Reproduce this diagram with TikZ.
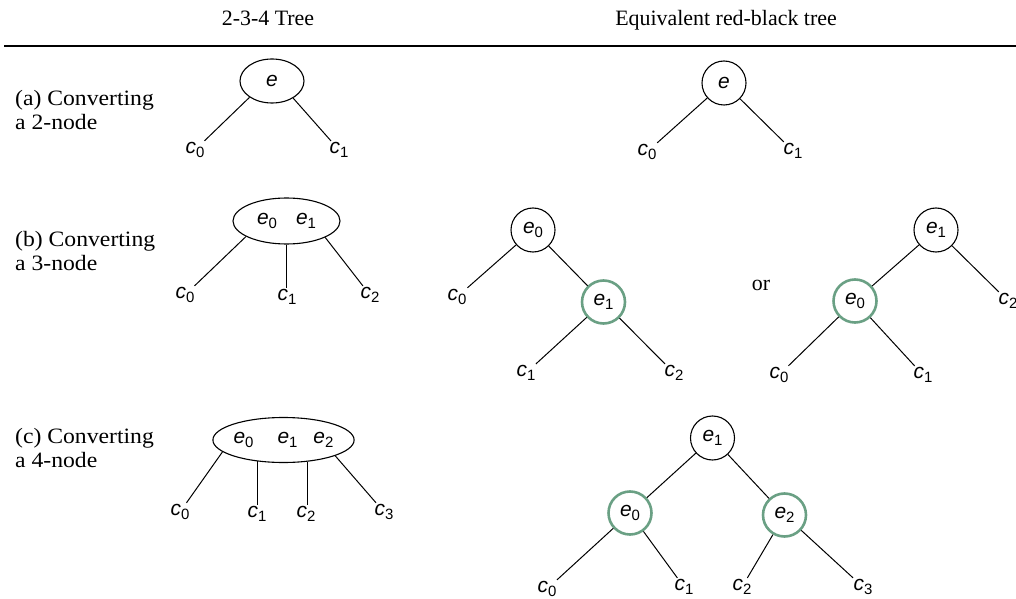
\documentclass[tikz,border=0pt]{standalone}
\usepackage{fontspec}
\setmainfont{Liberation Serif}
\newfontfamily\lsans{Liberation Sans}
\newfontfamily\rowfont[FakeStretch=1.08]{Liberation Serif}
\usetikzlibrary{shapes.geometric}
\definecolor{rbgreen}{RGB}{106,160,132}
\newcommand\ite[1]{{\lsans\itshape\fontsize{21}{21}\selectfont #1}}
\newcommand\sbs[1]{\raisebox{-4.5bp}{\lsans\fontsize{15}{15}\selectfont #1}}
\newcommand\lblc[1]{\ite{c}\sbs{#1}}
\newcommand\lble[1]{\ite{e}\sbs{#1}}
\begin{document}
\begin{tikzpicture}[x=1bp,y=-1bp,
  lab/.style={inner sep=1bp},
  txt/.style={inner sep=0pt,font=\fontsize{22}{24}\selectfont},
  rowtxt/.style={inner sep=0pt,font=\rowfont\fontsize{22}{24}\selectfont},
  blk/.style={circle,draw,line width=1.1bp,minimum size=44bp,inner sep=0pt},
  rednode/.style={circle,draw=rbgreen,line width=2.6bp,minimum size=43bp,inner sep=0pt},
  multi/.style={ellipse,draw,line width=1.1bp,inner sep=0pt},
  edge/.style={line width=1bp}]
\useasboundingbox (0,0) rectangle (1016,599);

% header
\node[txt,anchor=base] (h1) at (268,26) {2-3-4 Tree};
\node[txt,anchor=base] (h2) at (726,26) {Equivalent red-black tree};
\coordinate (r1) at (4,46);
\coordinate (r2) at (1016,46);
\draw[line width=1.5bp] (r1) -- (r2);

% row labels
\node[rowtxt,anchor=base west] (la1) at (15,106) {(a) Converting};
\node[rowtxt,anchor=base west] (la2) at (15,130) {a 2-node};
\node[rowtxt,anchor=base west] (lb1) at (15,247) {(b) Converting};
\node[rowtxt,anchor=base west] (lb2) at (15,271) {a 3-node};
\node[rowtxt,anchor=base west] (lc1) at (15,443) {(c) Converting};
\node[rowtxt,anchor=base west] (lc2) at (15,467) {a 4-node};

% (a) 2-3-4
\node[multi,minimum width=64bp,minimum height=44bp] (A) at (272,81) {\ite{e}};
\node[lab] (a0) at (195,150) {\lblc{0}};
\node[lab] (a1) at (339,150) {\lblc{1}};
\draw[edge] (A.216) -- (a0);
\draw[edge] (A.321) -- (a1);

% (a) red-black
\node[blk] (B) at (724,83) {\ite{e}};
\node[lab] (b0) at (647,152) {\lblc{0}};
\node[lab] (b1) at (793,151) {\lblc{1}};
\draw[edge] (B) -- (b0);
\draw[edge] (B) -- (b1);

% (b) 2-3-4
\node[multi,minimum width=107bp,minimum height=46bp] (C) at (286.5,221) {\lble{0}\hspace{19bp}\lble{1}};
\node[lab] (c0) at (185,295) {\lblc{0}};
\node[lab] (c1) at (287,297) {\lblc{1}};
\node[lab] (c2) at (370,295) {\lblc{2}};
\draw[edge] (C.201) -- (c0);
\draw[edge] (C.south) -- (C.south |- c1.north);
\draw[edge] (C.337) -- (c2);

% (b) red-black, left
\node[blk] (D0) at (533,230) {\lble{0}};
\node[rednode] (D1) at (603.5,302) {\lble{1}};
\node[lab] (d0) at (457,297) {\lblc{0}};
\node[lab] (d1) at (526,373) {\lblc{1}};
\node[lab] (d2) at (674,373) {\lblc{2}};
\draw[edge] (D0) -- (d0);
\draw[edge] (D0) -- (D1);
\draw[edge] (D1) -- (d1);
\draw[edge] (D1) -- (d2);

\node[txt,anchor=base] (or) at (761,291) {or};

% (b) red-black, right
\node[blk] (F1) at (936,230) {\lble{1}};
\node[rednode] (F0) at (855,301) {\lble{0}};
\node[lab] (f0) at (779,375) {\lblc{0}};
\node[lab] (f1) at (923,375) {\lblc{1}};
\node[lab] (f2) at (1008,301) {\lblc{2}};
\draw[edge] (F1) -- (F0);
\draw[edge] (F1) -- (f2);
\draw[edge] (F0) -- (f0);
\draw[edge] (F0) -- (f1);

% (c) 2-3-4
\node[multi,minimum width=138bp,minimum height=45bp] (G) at (283.5,440) {\lble{0}\hspace{24bp}\lble{1}\hspace{16bp}\lble{2}};
\node[lab] (g0) at (180,512) {\lblc{0}};
\node[lab] (g1) at (257,514) {\lblc{1}};
\node[lab] (g2) at (306,514) {\lblc{2}};
\node[lab] (g3) at (384,512) {\lblc{3}};
\draw[edge] (G.191) -- (g0);
\draw[edge] (G.219.3) -- (G.219.3 |- g1.north);
\draw[edge] (G.318) -- (G.318 |- g2.north);
\draw[edge] (G.343) -- (g3);

% (c) red-black
\node[blk] (H1) at (712.5,438) {\lble{1}};
\node[rednode] (H0) at (630,513) {\lble{0}};
\node[rednode] (H2) at (784.5,515) {\lble{2}};
\node[lab] (h0) at (547,589) {\lblc{0}};
\node[lab] (h1) at (684,587) {\lblc{1}};
\node[lab] (h2) at (742,587) {\lblc{2}};
\node[lab] (h3) at (863,587) {\lblc{3}};
\draw[edge] (H1) -- (H0);
\draw[edge] (H1) -- (H2);
\draw[edge] (H0) -- (h0);
\draw[edge] (H0) -- (h1);
\draw[edge] (H2) -- (h2);
\draw[edge] (H2) -- (h3);
\end{tikzpicture}
\end{document}
